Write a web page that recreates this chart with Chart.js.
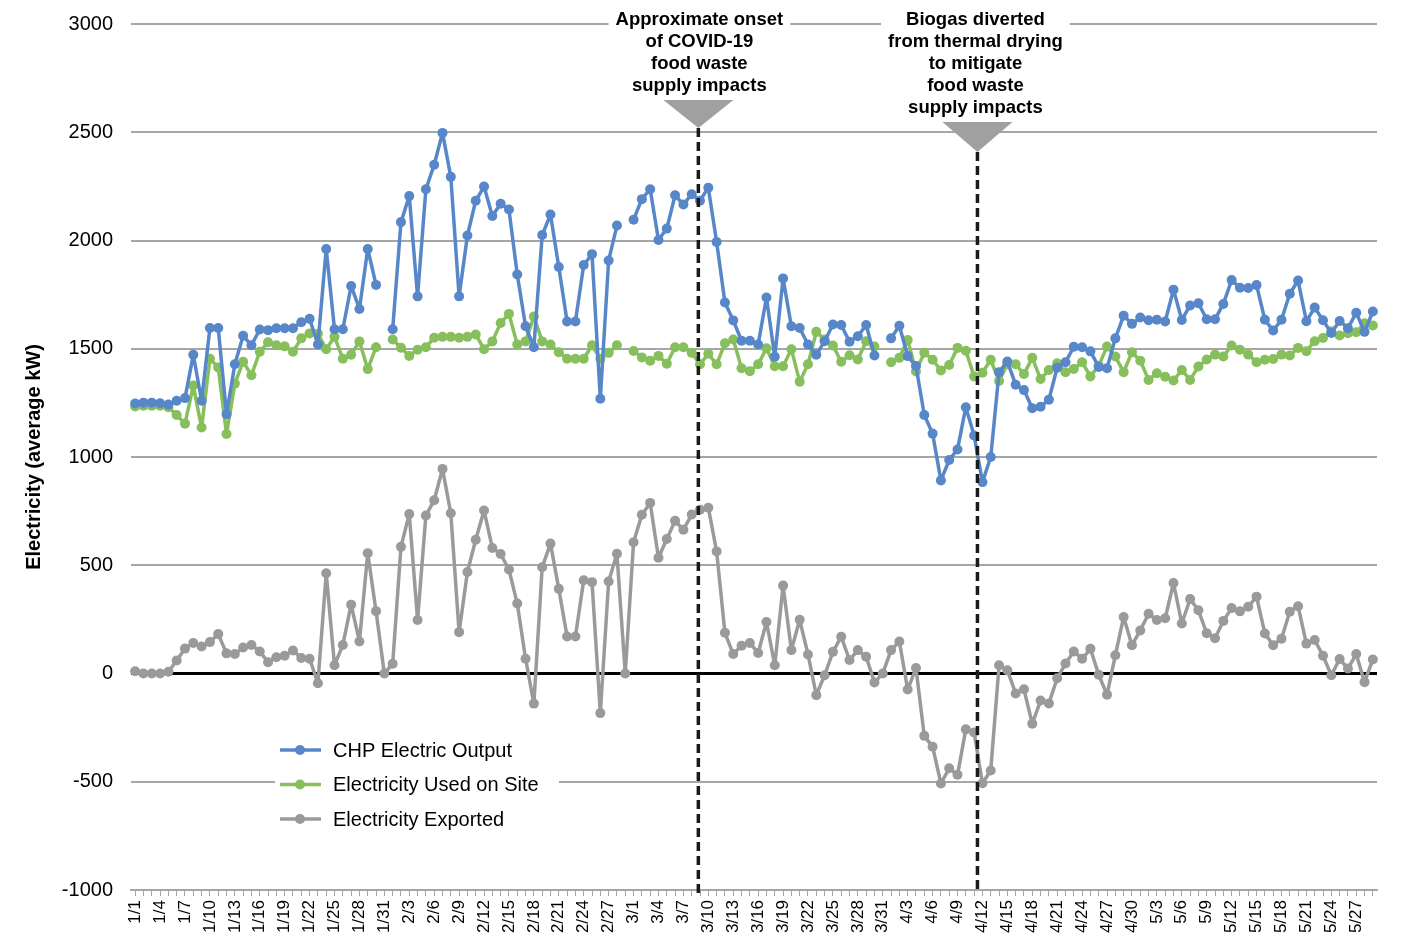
<!DOCTYPE html>
<html>
<head>
<meta charset="utf-8">
<title>CHP electricity</title>
<script src="https://cdn.jsdelivr.net/npm/chart.js@4/dist/chart.umd.min.js"></script>
<style>
  html, body { margin: 0; padding: 0; background: #fff; }
  #wrap { width: 1415px; height: 942px; }
</style>
</head>
<body>
<div id="wrap"><canvas id="chart" width="1415" height="942"></canvas></div>
<script>
// --- Data ---
const dateLabels = [
  '1/1','1/2','1/3','1/4','1/5','1/6','1/7','1/8','1/9','1/10','1/11','1/12','1/13','1/14','1/15','1/16',
  '1/17','1/18','1/19','1/20','1/21','1/22','1/23','1/24','1/25','1/26','1/27','1/28','1/29','1/30','1/31',
  '2/1','2/2','2/3','2/4','2/5','2/6','2/7','2/8','2/9','2/10','2/11','2/12','2/13','2/14','2/15','2/16',
  '2/17','2/18','2/19','2/20','2/21','2/22','2/23','2/24','2/25','2/26','2/27','2/28','2/29',
  '3/1','3/2','3/3','3/4','3/5','3/6','3/7','3/8','3/9','3/10','3/11','3/12','3/13','3/14','3/15','3/16',
  '3/17','3/18','3/19','3/20','3/21','3/22','3/23','3/24','3/25','3/26','3/27','3/28','3/29','3/30','3/31',
  '4/1','4/2','4/3','4/4','4/5','4/6','4/7','4/8','4/9','4/10','4/11','4/12','4/13','4/14','4/15','4/16',
  '4/17','4/18','4/19','4/20','4/21','4/22','4/23','4/24','4/25','4/26','4/27','4/28','4/29','4/30',
  '5/1','5/2','5/3','5/4','5/5','5/6','5/7','5/8','5/9','5/10','5/11','5/12','5/13','5/14','5/15','5/16',
  '5/17','5/18','5/19','5/20','5/21','5/22','5/23','5/24','5/25','5/26','5/27','5/28','5/29'
];

const chpOutput = [
  1247, 1251, 1251, 1248, 1242, 1260, 1272, 1472, 1260, 1596, 1596, 1198, 1428, 1560, 1516, 1589,
  1586, 1595, 1595, 1595, 1622, 1638, 1520, 1961, 1590, 1590, 1790, 1684, 1961, 1795, null,
  1590, 2085, 2205, 1742, 2237, 2350, 2497, 2294, 1742, 2023, 2184, 2249, 2113, 2170, 2143, 1843,
  1604, 1507, 2025, 2120, 1878, 1626, 1626, 1887, 1937, 1269, 1908, 2069, null,
  2096, 2191, 2237, 2002, 2055, 2209, 2166, 2214, 2184, 2244, 1993, 1714, 1631, 1537, 1537, 1520,
  1737, 1463, 1825, 1604, 1596, 1520, 1472, 1535, 1612, 1610, 1532, 1558, 1610, 1469, null,
  1548, 1606, 1466, 1420, 1194, 1108, 892, 986, 1035, 1230, 1099, 884, 1000, 1392, 1441, 1334,
  1309, 1225, 1232, 1265, 1412, 1438, 1509, 1507, 1488, 1416, 1410, 1548, 1653, 1615,
  1644, 1632, 1634, 1626, 1773, 1633, 1700, 1710, 1636, 1636, 1707, 1817, 1782, 1781, 1794, 1634,
  1584, 1634, 1754, 1815, 1627, 1690, 1632, 1573, 1628, 1595, 1666, 1578, 1672
];

const usedOnSite = [
  1233, 1237, 1237, 1237, 1230, 1194, 1154, 1330, 1136, 1454, 1413, 1106, 1339, 1440, 1378, 1486,
  1530, 1516, 1511, 1486, 1548, 1571, 1569, 1498, 1555, 1454, 1472, 1534, 1406, 1507, null,
  1543, 1505, 1467, 1495, 1507, 1551, 1555, 1555, 1551, 1555, 1566, 1498, 1534, 1619, 1661, 1520,
  1534, 1649, 1534, 1520, 1484, 1454, 1454, 1454, 1516, 1454, 1481, 1516, null,
  1490, 1460, 1445, 1467, 1431, 1507, 1507, 1481, 1428, 1477, 1428, 1525, 1543, 1410, 1396, 1428,
  1502, 1419, 1419, 1498, 1348, 1428, 1578, 1543, 1515, 1440, 1470, 1450, 1535, 1510, null,
  1438, 1458, 1540, 1395, 1482, 1449, 1400, 1425, 1504, 1491, 1372, 1389, 1449, 1351, 1428, 1428,
  1383, 1458, 1360, 1402, 1433, 1392, 1407, 1438, 1372, 1422, 1510, 1464, 1392, 1484,
  1445, 1356, 1387, 1371, 1353, 1402, 1356, 1418, 1450, 1473, 1464, 1515, 1495, 1473, 1438, 1449,
  1453, 1473, 1469, 1504, 1489, 1535, 1550, 1581, 1561, 1572, 1576, 1618, 1607
];

const exported = [
  10, 0, 0, 0, 8, 60, 115, 141, 125, 145, 182, 93, 90, 120, 132, 102,
  52, 75, 82, 106, 72, 68, -45, 463, 38, 132, 318, 148, 556, 288, 0,
  45, 585, 737, 247, 730, 800, 945, 740, 191, 469, 618, 753, 580, 552, 480, 323,
  68, -139, 491, 600, 391, 171, 171, 431, 422, -183, 425, 553, 0,
  606, 733, 788, 535, 621, 705, 664, 734, 756, 766, 564, 188, 90, 128, 141, 95,
  238, 38, 406, 108, 248, 88, -100, -8, 100, 170, 62, 108, 77, -41, 0,
  108, 148, -74, 25, -288, -338, -508, -438, -468, -258, -272, -507, -448, 38, 15, -92,
  -73, -232, -125, -138, -22, 46, 102, 68, 114, -6, -98, 84, 261, 131,
  199, 276, 247, 255, 418, 231, 344, 292, 186, 163, 243, 302, 287, 308, 355, 185,
  131, 161, 285, 311, 138, 155, 82, -8, 67, 23, 90, -40, 65
];

const seriesNames = ['CHP Electric Output', 'Electricity Used on Site', 'Electricity Exported'];
const seriesColors = ['#5787c8', '#86bf5c', '#9a9a9a'];

// annotation text + where it sits (fractional category index)
const noteCovid = ['Approximate onset', 'of COVID-19', 'food waste', 'supply impacts'];
const noteBiogas = ['Biogas diverted', 'from thermal drying', 'to mitigate', 'food waste', 'supply impacts'];
const noteIndex = [67.8, 101.4];

const FONT = "'Liberation Sans', Arial, sans-serif";

// --- Plugins ---
const annotationPlugin = {
  id: 'notes',
  afterDatasetsDraw(chart) {
    const c = chart.ctx;
    const x = chart.scales.x;
    const area = chart.chartArea;
    const notes = [
      { lines: noteCovid, idx: noteIndex[0], triTop: 100, triTip: 128, dx: 1 },
      { lines: noteBiogas, idx: noteIndex[1], triTop: 122, triTip: 152, dx: -2 }
    ];
    c.save();
    notes.forEach(n => {
      const px = x.getPixelForValue(n.idx);
      const tx = px + n.dx;
      // text block with white backing
      c.font = 'bold 18.5px ' + FONT;
      let w = 0;
      n.lines.forEach(l => { w = Math.max(w, c.measureText(l).width); });
      const lh = 22;
      const y0 = 20;
      c.fillStyle = '#fff';
      c.fillRect(tx - w / 2 - 7, y0 - 12, w + 14, lh * n.lines.length);
      c.fillStyle = '#000';
      c.textAlign = 'center';
      c.textBaseline = 'middle';
      n.lines.forEach((l, i) => c.fillText(l, tx, y0 + i * lh));
      // triangle
      c.fillStyle = '#a0a0a0';
      c.beginPath();
      c.moveTo(px - 35, n.triTop);
      c.lineTo(px + 35, n.triTop);
      c.lineTo(px, n.triTip);
      c.closePath();
      c.fill();
      // dashed line
      c.strokeStyle = '#1a1a1a';
      c.lineWidth = 3.5;
      c.setLineDash([9, 5]);
      c.beginPath();
      c.moveTo(px, n.triTip);
      c.lineTo(px, area.bottom + 4);
      c.stroke();
      c.setLineDash([]);
    });
    c.restore();
  }
};

const legendPlugin = {
  id: 'insideLegend',
  afterDatasetsDraw(chart) {
    const c = chart.ctx;
    c.save();
    c.fillStyle = '#fff';
    c.fillRect(275, 734, 284, 104);
    c.font = '20px ' + FONT;
    c.textAlign = 'left';
    c.textBaseline = 'middle';
    chart.data.datasets.forEach((ds, i) => {
      const y = 750 + i * 34.5;
      c.strokeStyle = ds.borderColor;
      c.lineWidth = 3.5;
      c.beginPath();
      c.moveTo(280, y);
      c.lineTo(321, y);
      c.stroke();
      c.fillStyle = ds.borderColor;
      c.beginPath();
      c.arc(300, y, 5, 0, Math.PI * 2);
      c.fill();
      c.fillStyle = '#000';
      c.fillText(ds.label, 333, y + 1);
    });
    c.restore();
  }
};

// --- Chart ---
function makeSet(label, data, color) {
  return {
    label: label,
    data: data,
    borderColor: color,
    backgroundColor: color,
    borderWidth: 3.5,
    borderJoinStyle: 'round',
    borderCapStyle: 'round',
    pointRadius: 5,
    pointBorderWidth: 0,
    pointHoverRadius: 5,
    tension: 0,
    spanGaps: false
  };
}

const ctx = document.getElementById('chart').getContext('2d');
new Chart(ctx, {
  type: 'line',
  data: {
    labels: dateLabels,
    datasets: [
      makeSet(seriesNames[0], chpOutput, seriesColors[0]),
      makeSet(seriesNames[1], usedOnSite, seriesColors[1]),
      makeSet(seriesNames[2], exported, seriesColors[2])
    ]
  },
  options: {
    responsive: false,
    animation: false,
    layout: { padding: { top: 24, right: 38, bottom: 0, left: 0 } },
    scales: {
      x: {
        offset: true,
        grid: { drawOnChartArea: false, drawTicks: true, tickLength: 6, color: '#a6a6a6', lineWidth: 1 },
        border: { display: true, color: '#a6a6a6', width: 2 },
        ticks: {
          autoSkip: false,
          minRotation: 90,
          maxRotation: 90,
          padding: 4,
          color: '#000',
          font: { family: FONT, size: 17 },
          callback: (v, i) => (i % 3 === 0 ? dateLabels[i] : '')
        },
        afterFit: s => { s.height = 52; }
      },
      y: {
        min: -1000,
        max: 3000,
        ticks: {
          stepSize: 500,
          padding: 18,
          color: '#000',
          font: { family: FONT, size: 20 },
          callback: v => String(v)
        },
        grid: {
          drawTicks: false,
          color: c => (c.tick.value === 0 ? '#000' : '#a6a6a6'),
          lineWidth: c => (c.tick.value === 0 ? 3 : 2)
        },
        border: { display: false },
        title: {
          display: true,
          text: 'Electricity (average kW)',
          color: '#000',
          font: { family: FONT, size: 20, weight: 'bold' },
          padding: { top: 22, bottom: 0 }
        },
        afterFit: s => {
          s.width = 131;
          s.paddingTop = 0;
          s.paddingBottom = 0;
        }
      }
    },
    plugins: {
      legend: { display: false },
      tooltip: { enabled: false }
    }
  },
  plugins: [annotationPlugin, legendPlugin]
});
</script>
</body>
</html>
